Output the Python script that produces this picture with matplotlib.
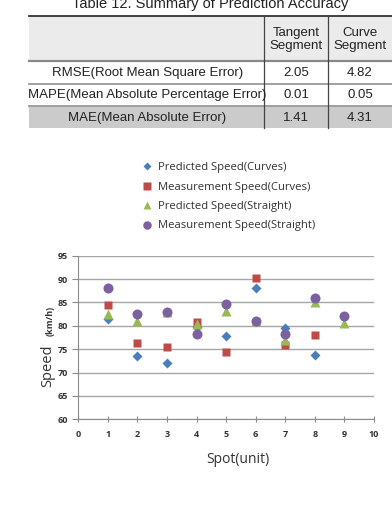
import matplotlib.pyplot as plt
from matplotlib.patches import Rectangle

# table data
table_title = "Table 12. Summary of Prediction Accuracy"
col_headers = ["Tangent\nSegment", "Curve\nSegment"]
row_labels = ["RMSE(Root Mean Square Error)",
              "MAPE(Mean Absolute Percentage Error)",
              "MAE(Mean Absolute Error)"]
tangent_vals = ["2.05", "0.01", "1.41"]
curve_vals = ["4.82", "0.05", "4.31"]

# chart data
spots_curves = [1, 2, 3, 4, 5, 6, 7, 8]
pred_curves = [81.5, 73.5, 72.1, 79.8, 77.9, 88.0, 79.6, 73.7]
meas_curves = [84.5, 76.3, 75.4, 80.9, 74.3, 90.2, 75.9, 78.0]
spots_straight = [1, 2, 3, 4, 5, 6, 7, 8, 9]
pred_straight = [82.5, 81.0, 83.0, 80.3, 83.1, 81.0, 77.0, 85.2, 80.7]
meas_straight = [88.0, 82.5, 83.0, 78.3, 84.7, 81.0, 78.2, 86.0, 82.1]

W, H = 392, 509
fig = plt.figure(figsize=(W / 100, H / 100), dpi=100)

# ---- table drawn in pixel coordinates on an overlay axes
tab = fig.add_axes([0, 0, 1, 1])
tab.set_xlim(0, W)
tab.set_ylim(H, 0)
tab.axis("off")

tfont = {"family": "Liberation Sans", "color": "#222222"}
tab.text(210, 4, table_title, ha="center", va="center", fontsize=10.5, **tfont)

x0, x1, x2, x3 = 29, 264, 328, 392
rows_y = [15.7, 61, 83.5, 106, 128]
tab.add_patch(Rectangle((x0, rows_y[0]), x3 - x0, rows_y[1] - rows_y[0],
                        facecolor="#ebebeb", edgecolor="none"))
tab.add_patch(Rectangle((x0, rows_y[3]), x3 - x0, rows_y[4] - rows_y[3],
                        facecolor="#cbcbcb", edgecolor="none"))
tab.plot([x0, x3], [rows_y[0]] * 2, color="#333333", lw=1.3)
tab.plot([x0, x3], [rows_y[1]] * 2, color="#888888", lw=1.6)
for yy in rows_y[2:4]:
    tab.plot([x0, x3], [yy] * 2, color="#999999", lw=1.3)
for xx in (x1, x2):
    tab.plot([xx, xx], [rows_y[0], rows_y[4]], color="#444444", lw=0.9)

for i, h in enumerate(col_headers):
    cx = (x1 + x2) / 2 if i == 0 else (x2 + x3) / 2
    tab.text(cx, (rows_y[0] + rows_y[1]) / 2 + 1, h, ha="center", va="center",
             fontsize=9.5, linespacing=1.15, **tfont)
for i, lab in enumerate(row_labels):
    cy = (rows_y[i + 1] + rows_y[i + 2]) / 2 + 0.5
    tab.text((x0 + x1) / 2 + 1, cy, lab, ha="center", va="center", fontsize=9.5, **tfont)
    tab.text((x1 + x2) / 2, cy, tangent_vals[i], ha="center", va="center", fontsize=9.5, **tfont)
    tab.text((x2 + x3) / 2, cy, curve_vals[i], ha="center", va="center", fontsize=9.5, **tfont)

# ---- scatter chart
ax = fig.add_axes([78.3 / W, 1 - 419.3 / H, (374 - 78.3) / W, (419.3 - 255.7) / H])
s1, = ax.plot(spots_curves, pred_curves, "D", color="#4a7ebb", ms=4.6, mec="none")
s2, = ax.plot(spots_curves, meas_curves, "s", color="#be4b48", ms=6.3, mec="none")
s3, = ax.plot(spots_straight, pred_straight, "^", color="#98b954", ms=7, mec="none")
s4, = ax.plot(spots_straight, meas_straight, "o", color="#7d60a0", ms=7.2, mec="none")

ax.set_xlim(0, 10)
ax.set_ylim(60, 95)
ax.set_xticks(range(0, 11))
ax.set_yticks(range(60, 96, 5))
ax.grid(axis="y", color="#a6a6a6", lw=1)
ax.set_axisbelow(True)
for sp in ("top", "right"):
    ax.spines[sp].set_visible(False)
for sp in ("left", "bottom"):
    ax.spines[sp].set_color("#8c8c8c")
ax.tick_params(axis="both", colors="#8c8c8c", length=4, labelcolor="#333333",
               labelsize=6.5)
ax.tick_params(axis="x", direction="inout", length=5, pad=5)
ax.tick_params(axis="y", direction="out", length=4)
for lab in ax.get_xticklabels() + ax.get_yticklabels():
    lab.set_fontweight("bold")
    lab.set_family("Open Sans")

ax.set_xlabel("Spot(unit)", fontsize=10, family="Open Sans", color="#333333")
ax.xaxis.set_label_coords(0.54, -0.20)
fig.text(48 / W, 1 - 366 / H, "Speed", rotation=90, ha="center", va="center",
         fontsize=10.5, family="Open Sans", color="#333333")
fig.text(50 / W, 1 - 321 / H, "(km/h)", rotation=90, ha="center", va="center",
         fontsize=6.5, family="Open Sans", fontweight="bold", color="#333333")

leg = fig.legend([s1, s2, s3, s4],
                 ["Predicted Speed(Curves)", "Measurement Speed(Curves)",
                  "Predicted Speed(Straight)", "Measurement Speed(Straight)"],
                 loc="upper left", bbox_to_anchor=(131 / W, 1 - 152 / H),
                 frameon=False, handlelength=1, handletextpad=0.5,
                 labelspacing=0.75, prop={"family": "Open Sans", "size": 8.1},
                 markerscale=0.85)
for t in leg.get_texts():
    t.set_color("#333333")

fig.savefig("out.png", dpi=100)
